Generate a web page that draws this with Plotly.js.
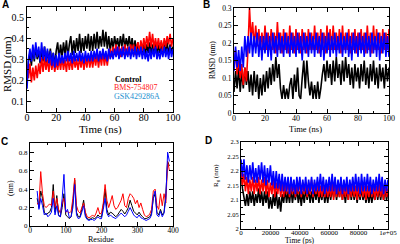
<!DOCTYPE html>
<html><head><meta charset="utf-8">
<script src="https://cdn.plot.ly/plotly-3.0.1.min.js"></script>
<style>html,body{margin:0;padding:0;background:#fff}#c{width:400px;height:244px}</style>
</head><body><div id="c"></div>
<script>
// ---------- Panel A : backbone RMSD (nm) vs time (ns) ----------
const timeA = [0,1,2,3,4,5,6,7,8,9,10,11,12,13,14,15,16,17,18,19,20,21,22,23,24,25,26,27,28,29,30,31,32,33,34,35,36,37,38,39,40,41,42,43,44,45,46,47,48,49,50,51,52,53,54,55,56,57,58,59,60,61,62,63,64,65,66,67,68,69,70,71,72,73,74,75,76,77,78,79,80,81,82,83,84,85,86,87,88,89,90,91,92,93,94,95,96,97,98,99,100];
const controlA = [
0.19,0.29,0.33,0.27,0.35,0.29,0.36,0.30,0.34,0.28,
0.35,0.29,0.36,0.28,0.34,0.29,0.35,0.28,0.33,0.27,
0.34,0.38,0.30,0.37,0.31,0.38,0.32,0.39,0.31,0.37,
0.41,0.32,0.39,0.33,0.40,0.34,0.42,0.33,0.40,0.34,
0.41,0.35,0.42,0.34,0.41,0.34,0.42,0.35,0.43,0.35,
0.41,0.36,0.44,0.36,0.43,0.35,0.41,0.34,0.40,0.35,
0.41,0.36,0.40,0.35,0.41,0.36,0.42,0.35,0.40,0.36,
0.41,0.35,0.40,0.34,0.39,0.33,0.38,0.32,0.37,0.33,
0.38,0.32,0.37,0.33,0.38,0.32,0.37,0.33,0.38,0.32,
0.37,0.33,0.38,0.32,0.37,0.33,0.38,0.32,0.37,0.33,
0.36];
const bmsA = [
0.27,0.21,0.28,0.19,0.26,0.20,0.27,0.21,0.28,0.23,
0.31,0.24,0.31,0.25,0.30,0.24,0.31,0.25,0.30,0.24,
0.29,0.25,0.30,0.25,0.31,0.25,0.30,0.24,0.31,0.25,
0.30,0.25,0.31,0.26,0.30,0.25,0.31,0.26,0.31,0.25,
0.31,0.26,0.32,0.26,0.31,0.26,0.32,0.27,0.32,0.26,
0.32,0.27,0.33,0.27,0.32,0.27,0.33,0.35,0.31,0.36,
0.32,0.37,0.32,0.36,0.31,0.36,0.32,0.37,0.32,0.36,
0.32,0.37,0.33,0.37,0.32,0.36,0.38,0.33,0.39,0.34,
0.40,0.35,0.41,0.36,0.43,0.36,0.42,0.35,0.40,0.35,
0.40,0.35,0.39,0.34,0.40,0.36,0.41,0.37,0.42,0.36,
0.40];
const gskA = [
0.16,0.30,0.35,0.29,0.37,0.30,0.38,0.31,0.36,0.29,
0.38,0.30,0.36,0.29,0.35,0.28,0.34,0.27,0.33,0.26,
0.32,0.27,0.33,0.28,0.32,0.28,0.33,0.29,0.34,0.29,
0.33,0.28,0.34,0.29,0.33,0.29,0.34,0.29,0.33,0.28,
0.34,0.29,0.33,0.29,0.34,0.29,0.34,0.30,0.35,0.29,
0.34,0.30,0.35,0.30,0.34,0.29,0.35,0.30,0.34,0.30,
0.35,0.31,0.36,0.30,0.35,0.31,0.36,0.30,0.35,0.31,
0.36,0.30,0.35,0.31,0.36,0.30,0.35,0.31,0.36,0.30,
0.35,0.30,0.34,0.29,0.35,0.30,0.35,0.31,0.36,0.30,
0.34,0.30,0.35,0.31,0.36,0.31,0.35,0.30,0.36,0.31,
0.35];

// ---------- Panel B : ligand RMSD (nm) vs time (ns) ----------
const timeB = timeA;
const bmsB = [
0.13,0.18,0.11,0.16,0.10,0.14,0.08,0.13,0.09,0.18,
0.30,0.21,0.26,0.19,0.25,0.19,0.24,0.18,0.23,0.18,
0.25,0.18,0.23,0.18,0.24,0.18,0.23,0.17,0.26,0.18,
0.23,0.17,0.24,0.18,0.23,0.17,0.25,0.18,0.23,0.17,
0.24,0.18,0.23,0.17,0.24,0.18,0.23,0.17,0.24,0.18,
0.23,0.18,0.25,0.18,0.23,0.17,0.24,0.18,0.23,0.17,
0.25,0.18,0.24,0.18,0.25,0.18,0.23,0.18,0.24,0.17,
0.25,0.18,0.23,0.18,0.24,0.17,0.23,0.18,0.24,0.17,
0.23,0.18,0.24,0.18,0.23,0.17,0.25,0.18,0.23,0.17,
0.25,0.18,0.24,0.18,0.23,0.17,0.24,0.18,0.23,0.18,
0.24];
const gskB = [
0.12,0.19,0.13,0.18,0.12,0.19,0.13,0.22,0.16,0.22,
0.17,0.23,0.16,0.22,0.17,0.23,0.16,0.22,0.15,0.22,
0.17,0.23,0.16,0.22,0.15,0.23,0.17,0.22,0.16,0.23,
0.17,0.22,0.16,0.23,0.17,0.22,0.16,0.23,0.17,0.22,
0.16,0.23,0.17,0.22,0.15,0.23,0.17,0.22,0.16,0.23,
0.17,0.22,0.16,0.23,0.17,0.22,0.16,0.23,0.15,0.22,
0.17,0.23,0.16,0.22,0.17,0.23,0.16,0.22,0.17,0.23,
0.16,0.22,0.17,0.23,0.16,0.22,0.15,0.23,0.17,0.22,
0.16,0.23,0.17,0.22,0.16,0.23,0.17,0.22,0.16,0.23,
0.17,0.22,0.16,0.23,0.15,0.22,0.17,0.23,0.16,0.22,
0.16];
const controlB = [
0.06,0.12,0.07,0.13,0.06,0.12,0.07,0.13,0.08,0.12,
0.06,0.11,0.05,0.12,0.06,0.11,0.04,0.10,0.05,0.11,
0.06,0.12,0.07,0.13,0.08,0.14,0.09,0.16,0.10,0.14,
0.07,0.04,0.08,0.04,0.07,0.04,0.08,0.10,0.04,0.11,
0.06,0.13,0.05,0.04,0.10,0.15,0.07,0.15,0.09,0.05,
0.09,0.04,0.08,0.04,0.09,0.04,0.07,0.11,0.14,0.09,
0.15,0.10,0.14,0.08,0.15,0.09,0.16,0.10,0.14,0.08,
0.15,0.09,0.16,0.10,0.14,0.08,0.13,0.07,0.14,0.09,
0.13,0.07,0.14,0.09,0.15,0.08,0.13,0.07,0.14,0.09,
0.15,0.08,0.13,0.07,0.14,0.09,0.13,0.07,0.14,0.09,
0.13];

// ---------- Panel C : RMSF (nm) vs residue ----------
const residues = [20,25,30,35,40,45,50,55,60,65,70,75,80,85,90,95,100,105,110,115,120,125,130,135,140,145,150,155,160,165,170,175,180,185,190,195,200,205,210,215,220,225,230,235,240,245,250,255,260,265,270,275,280,285,290,295,300,305,310,315,320,325,330,335,340,345,350,355,360,365,370,375,380,385,390];
const controlC = [0.30,0.20,0.38,0.30,0.15,0.12,0.14,0.15,0.20,0.45,0.15,0.33,0.12,0.10,0.20,0.35,0.12,0.10,0.08,0.10,0.25,0.50,0.15,0.10,0.10,0.18,0.28,0.12,0.08,0.07,0.08,0.09,0.08,0.09,0.12,0.10,0.10,0.22,0.40,0.18,0.12,0.15,0.14,0.12,0.10,0.12,0.15,0.18,0.16,0.13,0.16,0.20,0.28,0.22,0.16,0.14,0.12,0.15,0.12,0.10,0.08,0.08,0.09,0.10,0.14,0.30,0.35,0.15,0.12,0.18,0.12,0.15,0.35,0.70,0.65];
const bmsC = [0.25,0.22,0.59,0.35,0.22,0.20,0.22,0.24,0.22,0.38,0.20,0.30,0.18,0.14,0.25,0.30,0.15,0.16,0.14,0.16,0.30,0.52,0.22,0.16,0.14,0.20,0.25,0.15,0.10,0.09,0.10,0.12,0.10,0.14,0.20,0.13,0.14,0.25,0.45,0.28,0.20,0.26,0.33,0.22,0.18,0.20,0.24,0.28,0.35,0.22,0.20,0.30,0.35,0.33,0.30,0.24,0.28,0.20,0.25,0.18,0.12,0.10,0.11,0.13,0.18,0.38,0.40,0.22,0.18,0.35,0.22,0.35,0.25,0.70,0.60];
const gskC = [0.38,0.18,0.30,0.22,0.12,0.14,0.10,0.12,0.15,0.30,0.12,0.22,0.11,0.10,0.30,0.56,0.15,0.18,0.09,0.10,0.20,0.45,0.12,0.08,0.09,0.15,0.22,0.10,0.07,0.06,0.07,0.07,0.06,0.08,0.10,0.08,0.08,0.18,0.30,0.14,0.10,0.12,0.10,0.09,0.08,0.10,0.12,0.14,0.12,0.10,0.12,0.16,0.20,0.16,0.12,0.10,0.09,0.12,0.09,0.08,0.07,0.06,0.07,0.08,0.12,0.32,0.38,0.12,0.10,0.16,0.10,0.14,0.30,0.80,0.70];

// ---------- Panel D : Rg (nm) vs time (ps) ----------
const timeD = [0,1000,2000,3000,4000,5000,6000,7000,8000,9000,10000,11000,12000,13000,14000,15000,16000,17000,18000,19000,20000,21000,22000,23000,24000,25000,26000,27000,28000,29000,30000,31000,32000,33000,34000,35000,36000,37000,38000,39000,40000,41000,42000,43000,44000,45000,46000,47000,48000,49000,50000,51000,52000,53000,54000,55000,56000,57000,58000,59000,60000,61000,62000,63000,64000,65000,66000,67000,68000,69000,70000,71000,72000,73000,74000,75000,76000,77000,78000,79000,80000,81000,82000,83000,84000,85000,86000,87000,88000,89000,90000,91000,92000,93000,94000,95000,96000,97000,98000,99000,100000];
const controlD = [
2.21,2.14,2.11,2.08,2.12,2.08,2.13,2.09,2.13,2.08,
2.12,2.09,2.14,2.09,2.13,2.08,2.13,2.09,2.13,2.07,
2.11,2.07,2.12,2.08,2.13,2.07,2.11,2.06,2.12,2.09,
2.14,2.09,2.13,2.09,2.14,2.09,2.13,2.10,2.14,2.09,
2.13,2.08,2.13,2.09,2.14,2.10,2.14,2.09,2.13,2.09,
2.14,2.10,2.14,2.09,2.13,2.10,2.14,2.09,2.13,2.09,
2.14,2.10,2.14,2.11,2.15,2.10,2.14,2.11,2.15,2.10,
2.14,2.09,2.14,2.10,2.15,2.10,2.14,2.10,2.14,2.09,
2.14,2.10,2.14,2.10,2.13,2.09,2.13,2.09,2.13,2.09,
2.13,2.10,2.14,2.10,2.14,2.10,2.14,2.10,2.14,2.10,
2.13];
const bmsD = [
2.22,2.15,2.19,2.13,2.18,2.12,2.17,2.13,2.18,2.12,
2.17,2.13,2.18,2.12,2.17,2.13,2.18,2.12,2.17,2.11,
2.16,2.12,2.17,2.11,2.16,2.12,2.17,2.11,2.16,2.11,
2.16,2.12,2.17,2.11,2.16,2.12,2.16,2.11,2.16,2.12,
2.17,2.11,2.16,2.12,2.16,2.11,2.16,2.12,2.17,2.11,
2.16,2.12,2.16,2.11,2.15,2.11,2.16,2.11,2.15,2.11,
2.15,2.11,2.16,2.10,2.15,2.11,2.16,2.11,2.15,2.10,
2.15,2.11,2.15,2.10,2.15,2.11,2.16,2.11,2.15,2.10,
2.15,2.11,2.16,2.11,2.15,2.10,2.15,2.11,2.16,2.11,
2.15,2.10,2.15,2.11,2.16,2.11,2.15,2.10,2.15,2.11,
2.14];
const gskD = [
2.24,2.18,2.24,2.17,2.22,2.16,2.22,2.17,2.23,2.16,
2.21,2.16,2.22,2.17,2.23,2.16,2.22,2.15,2.21,2.16,
2.22,2.15,2.20,2.14,2.20,2.14,2.19,2.13,2.19,2.13,
2.18,2.13,2.18,2.12,2.18,2.13,2.17,2.12,2.18,2.13,
2.18,2.12,2.17,2.13,2.18,2.12,2.17,2.13,2.18,2.12,
2.17,2.13,2.18,2.13,2.19,2.13,2.18,2.12,2.17,2.13,
2.18,2.13,2.19,2.13,2.18,2.12,2.17,2.13,2.18,2.12,
2.17,2.13,2.18,2.12,2.17,2.13,2.18,2.13,2.19,2.13,
2.18,2.12,2.19,2.13,2.18,2.13,2.19,2.13,2.18,2.12,
2.17,2.13,2.18,2.13,2.19,2.13,2.18,2.12,2.17,2.13,
2.17];

const seriesNames = ['Control','BMS-754807','GSK429286A'];
const colors = ['#000000','#ff0000','#0000ff'];
const legendColors = ['#000000','#ff2020','#1a8fd0'];

function tr(x, y, i, xa, ya, w) {
  return {x: x, y: y, type: 'scatter', mode: 'lines', name: seriesNames[i],
          xaxis: xa, yaxis: ya, showlegend: false, hoverinfo: 'skip',
          line: {color: colors[i], width: w, simplify: false}};
}
const data = [
  tr(timeA, controlA, 0, 'x', 'y', 1.6), tr(timeA, bmsA, 1, 'x', 'y', 1.6), tr(timeA, gskA, 2, 'x', 'y', 1.6),
  tr(timeB, controlB, 0, 'x2', 'y2', 1.6), tr(timeB, bmsB, 1, 'x2', 'y2', 1.6), tr(timeB, gskB, 2, 'x2', 'y2', 1.6),
  tr(residues, controlC, 0, 'x3', 'y3', 1), tr(residues, bmsC, 1, 'x3', 'y3', 1), tr(residues, gskC, 2, 'x3', 'y3', 1),
  tr(timeD, controlD, 0, 'x4', 'y4', 1.6), tr(timeD, bmsD, 1, 'x4', 'y4', 1.6), tr(timeD, gskD, 2, 'x4', 'y4', 1.6)
];

const serif = 'Liberation Serif, Times New Roman, serif';
function ax(opts, fs) {
  return Object.assign({
    showline: true, linecolor: '#000', linewidth: 1, mirror: 'allticks',
    ticks: 'inside', ticklen: 4, tickcolor: '#000', tickwidth: 1,
    showgrid: false, zeroline: false, fixedrange: true,
    tickfont: {family: serif, size: fs, color: '#000'}
  }, opts);
}
const W = 400, H = 244;
const dx = (a, b) => [a / W, b / W];
const dy = (top, bot) => [1 - bot / H, 1 - top / H];

const layout = {
  width: W, height: H, margin: {l: 0, r: 0, t: 0, b: 0},
  paper_bgcolor: '#fff', plot_bgcolor: '#fff', showlegend: false,
  xaxis: ax({domain: dx(27, 173), range: [0, 100], dtick: 20, tick0: 0, anchor: 'y', ticklabelstandoff: -4,
             minor: {ticks: 'inside', ticklen: 2, dtick: 10, tickcolor: '#000'}}, 10),
  yaxis: ax({domain: dy(6.5, 112), range: [0.05, 0.55], dtick: 0.1, tick0: 0.1, anchor: 'x',
             minor: {ticks: 'inside', ticklen: 2, dtick: 0.05, tickcolor: '#000'}}, 10),
  xaxis2: ax({domain: dx(234, 389), range: [0, 100], dtick: 20, tick0: 0, anchor: 'y2', ticklabelstandoff: -3,
             minor: {ticks: 'inside', ticklen: 2, dtick: 10, tickcolor: '#000'}}, 8),
  yaxis2: ax({domain: dy(8, 113), range: [0, 0.3], dtick: 0.05, tick0: 0, anchor: 'x2',
             minor: {ticks: 'inside', ticklen: 2, dtick: 0.025, tickcolor: '#000'}}, 7.5),
  xaxis3: ax({domain: dx(30, 173), range: [0, 400], dtick: 100, tick0: 0, anchor: 'y3', ticklabelstandoff: -3,
             minor: {ticks: 'inside', ticklen: 2, dtick: 50, tickcolor: '#000'}}, 7.5),
  yaxis3: ax({domain: dy(143, 226), range: [0, 0.9], dtick: 0.2, tick0: 0, anchor: 'x3',
             minor: {ticks: 'inside', ticklen: 2, dtick: 0.1, tickcolor: '#000'}}, 7),
  xaxis4: ax({domain: dx(241, 388), range: [0, 100000], dtick: 20000, tick0: 0, anchor: 'y4', ticklabelstandoff: -3,
             tickvals: [0, 20000, 40000, 60000, 80000, 100000],
             ticktext: ['0', '20000', '40000', '60000', '80000', '1e+05'],
             minor: {ticks: 'inside', ticklen: 2, dtick: 10000, tickcolor: '#000'}}, 7),
  yaxis4: ax({domain: dy(142, 229), range: [2, 2.3], dtick: 0.05, tick0: 2, anchor: 'x4',
             tickvals: [2, 2.05, 2.1, 2.15, 2.2, 2.25, 2.3],
             ticktext: ['2', '2.05', '2.1', '2.15', '2.2', '2.25', '2.3'],
             minor: {ticks: 'inside', ticklen: 2, dtick: 0.025, tickcolor: '#000'}}, 6.5),
  annotations: []
};

function note(text, x, y, size, opts) {
  layout.annotations.push(Object.assign({
    text: text, x: x / W, y: 1 - y / H, xref: 'paper', yref: 'paper',
    showarrow: false, xanchor: 'center', yanchor: 'middle',
    font: {family: serif, size: size, color: '#000'}
  }, opts || {}));
}
// panel letters
const sans = 'Liberation Sans, Arial, sans-serif';
note('<b>A</b>', 5, 4, 10, {font: {family: sans, size: 10, color: '#000'}});
note('<b>B</b>', 207, 5, 10, {font: {family: sans, size: 10, color: '#000'}});
note('<b>C</b>', 4, 141, 10, {font: {family: sans, size: 10, color: '#000'}});
note('<b>D</b>', 208, 140, 10, {font: {family: sans, size: 10, color: '#000'}});
// axis titles
note('RMSD (nm)', 7, 64, 11, {textangle: -90});
note('Time (ns)', 100, 129, 11);
note('RMSD (nm)', 212, 60, 7.5, {textangle: -90});
note('Time (ns)', 305, 129, 8.5);
note('(nm)', 10, 188, 8, {textangle: -90});
note('Residue', 101, 239, 8);
note('R<sub>g</sub> (nm)', 216, 176, 7, {textangle: -90});
note('Time (ps)', 300, 240.5, 7.5);
// legend texts of panel A
note('<b>Control</b>', 113, 79, 8, {xanchor: 'left', font: {family: serif, size: 8, color: legendColors[0]}});
note('BMS-754807', 112, 87, 8, {xanchor: 'left', font: {family: serif, size: 8, color: legendColors[1]}});
note('GSK429286A', 112, 96, 8, {xanchor: 'left', font: {family: serif, size: 8, color: legendColors[2]}});

Plotly.newPlot('c', data, layout, {staticPlot: true, displayModeBar: false});
</script></body></html>
